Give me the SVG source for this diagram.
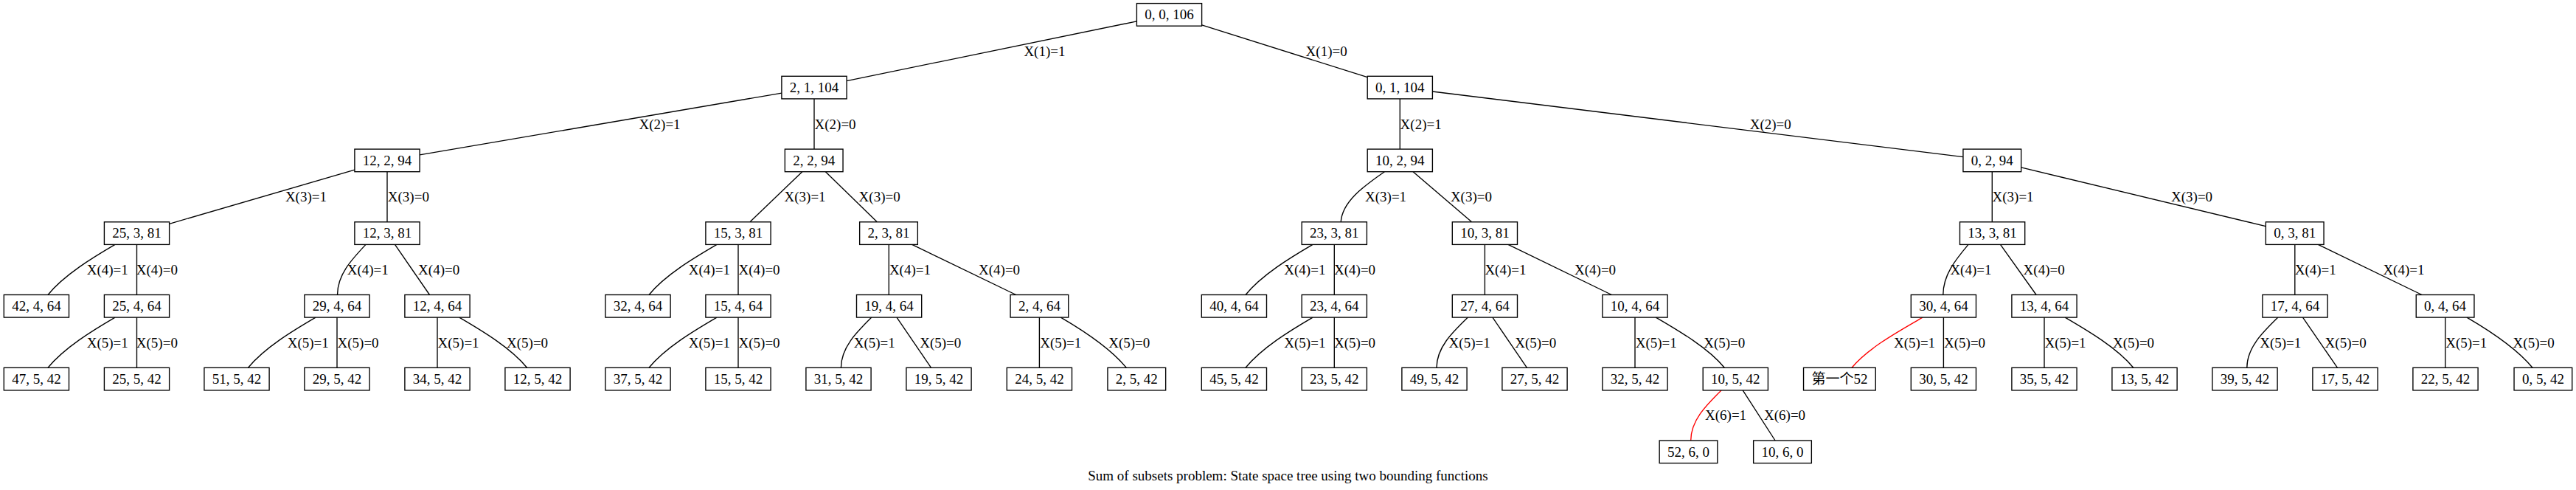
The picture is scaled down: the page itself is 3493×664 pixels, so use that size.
<svg xmlns="http://www.w3.org/2000/svg" width="3493" height="664" viewBox="0 0 3493 664">
<style>
.node rect{fill:#fff;stroke:#000;stroke-width:1.36}
.node text{font-family:"Liberation Serif","Noto Sans CJK SC",serif;font-size:19px;text-anchor:middle;fill:#000}
.edge path{fill:none;stroke:#000;stroke-width:1.36}
.edge path.red{stroke:#ff0000}
.edge text{font-family:"Liberation Serif",serif;font-size:19px;fill:#000}
.cap{font-family:"Liberation Serif",serif;font-size:19px;text-anchor:middle;fill:#000}
</style>
<rect width="3493" height="664" fill="#fff"/>
<g id="connectors">
<g class="edge"><path d="M1541.4,28.9L1148.1,109.6"/><text x="1388.4" y="75.9">X(1)=1</text></g>
<g class="edge"><path d="M1629.6,33.8L1854.2,104.7"/><text x="1770.6" y="75.9">X(1)=0</text></g>
<g class="edge"><path d="M1060,126.1L569.1,209.9"/><text x="866.5" y="174.6">X(2)=1</text></g>
<g class="edge"><path d="M1104,133.9L1104,202.1"/><text x="1104.5" y="174.6">X(2)=0</text></g>
<g class="edge"><path d="M1898.3,133.9L1898.3,202.1"/><text x="1898.6" y="174.6">X(2)=1</text></g>
<g class="edge"><path d="M1942.4,124L2661.9,212.6"/><text x="2372.7" y="174.6">X(2)=0</text></g>
<g class="edge"><path d="M480.9,230.2L229.6,303.3"/><text x="386.9" y="273.3">X(3)=1</text></g>
<g class="edge"><path d="M525,232.7L525,300.8"/><text x="525.8" y="273.3">X(3)=0</text></g>
<g class="edge"><path d="M1087.8,232.7L1016.9,300.8"/><text x="1063.5" y="273.3">X(3)=1</text></g>
<g class="edge"><path d="M1119.4,232.7L1189.3,300.8"/><text x="1164.6" y="273.3">X(3)=0</text></g>
<g class="edge"><path d="M1877.4,232.7C1847.8,253.1 1820,273.6 1818.2,300.8"/><text x="1851" y="273.3">X(3)=1</text></g>
<g class="edge"><path d="M1916.1,232.7L1995.6,300.8"/><text x="1966.9" y="273.3">X(3)=0</text></g>
<g class="edge"><path d="M2701.3,232.7L2701.3,300.8"/><text x="2701.5" y="273.3">X(3)=1</text></g>
<g class="edge"><path d="M2740.6,226.9L3072.3,306.6"/><text x="2944" y="273.3">X(3)=0</text></g>
<g class="edge"><path d="M156,331.4C126,348.9 87,372.5 65,399.5"/><text x="117.7" y="372">X(4)=1</text></g>
<g class="edge"><path d="M185.5,331.4L185.5,399.5"/><text x="184.8" y="372">X(4)=0</text></g>
<g class="edge"><path d="M496,331.4C476.75,351.8 457.5,372.3 457.5,399.5"/><text x="470.7" y="372">X(4)=1</text></g>
<g class="edge"><path d="M535.5,331.4L582.5,399.5"/><text x="567.1" y="372">X(4)=0</text></g>
<g class="edge"><path d="M972,331.4C942,348.9 902,372.5 880,399.5"/><text x="933.8" y="372">X(4)=1</text></g>
<g class="edge"><path d="M1001,331.4L1001,399.5"/><text x="1001.5" y="372">X(4)=0</text></g>
<g class="edge"><path d="M1205.3,331.4L1205.3,399.5"/><text x="1205.9" y="372">X(4)=1</text></g>
<g class="edge"><path d="M1236.7,331.4L1377.7,399.5"/><text x="1327" y="372">X(4)=0</text></g>
<g class="edge"><path d="M1780,331.4C1750,348.9 1711,372.5 1689,399.5"/><text x="1741.3" y="372">X(4)=1</text></g>
<g class="edge"><path d="M1809.3,331.4L1809.3,399.5"/><text x="1809" y="372">X(4)=0</text></g>
<g class="edge"><path d="M2013.4,331.4L2013.4,399.5"/><text x="2013.4" y="372">X(4)=1</text></g>
<g class="edge"><path d="M2045,331.4L2185.4,399.5"/><text x="2135" y="372">X(4)=0</text></g>
<g class="edge"><path d="M2669,331.4C2651.9,351.8 2634.8,372.3 2634.8,399.5"/><text x="2644.4" y="372">X(4)=1</text></g>
<g class="edge"><path d="M2712.5,331.4L2761.1,399.5"/><text x="2743.6" y="372">X(4)=0</text></g>
<g class="edge"><path d="M3111.8,331.4L3111.8,399.5"/><text x="3111.7" y="372">X(4)=1</text></g>
<g class="edge"><path d="M3143.3,331.4L3284,399.5"/><text x="3231.4" y="372">X(4)=1</text></g>
<g class="edge"><path d="M156,430.1C126,447.6 87,471.3 65,498.3"/><text x="117.7" y="470.7">X(5)=1</text></g>
<g class="edge"><path d="M185.5,430.1L185.5,498.3"/><text x="184.8" y="470.7">X(5)=0</text></g>
<g class="edge"><path d="M428,430.1C398,447.6 358.5,471.3 336.5,498.3"/><text x="389.7" y="470.7">X(5)=1</text></g>
<g class="edge"><path d="M457,430.1L457,498.3"/><text x="457.5" y="470.7">X(5)=0</text></g>
<g class="edge"><path d="M593,430.1L593,498.3"/><text x="593.5" y="470.7">X(5)=1</text></g>
<g class="edge"><path d="M622.8,430.1C652.8,447.6 692.6,471.3 714.6,498.3"/><text x="687" y="470.7">X(5)=0</text></g>
<g class="edge"><path d="M972,430.1C942,447.6 902,471.3 880,498.3"/><text x="933.8" y="470.7">X(5)=1</text></g>
<g class="edge"><path d="M1001,430.1L1001,498.3"/><text x="1001.5" y="470.7">X(5)=0</text></g>
<g class="edge"><path d="M1181.8,430.1C1161.1,450.6 1140.4,471 1140.4,498.3"/><text x="1157.7" y="470.7">X(5)=1</text></g>
<g class="edge"><path d="M1216,430.1L1262.6,498.3"/><text x="1247.2" y="470.7">X(5)=0</text></g>
<g class="edge"><path d="M1409.4,430.1L1409.4,498.3"/><text x="1410.2" y="470.7">X(5)=1</text></g>
<g class="edge"><path d="M1438.4,430.1C1468.4,447.6 1505.3,471.3 1527.3,498.3"/><text x="1503.2" y="470.7">X(5)=0</text></g>
<g class="edge"><path d="M1780,430.1C1750,447.6 1711,471.3 1689,498.3"/><text x="1741.3" y="470.7">X(5)=1</text></g>
<g class="edge"><path d="M1809.3,430.1L1809.3,498.3"/><text x="1809" y="470.7">X(5)=0</text></g>
<g class="edge"><path d="M1990.4,430.1C1969.2,450.6 1948,471 1948,498.3"/><text x="1964.6" y="470.7">X(5)=1</text></g>
<g class="edge"><path d="M2023.9,430.1L2070.5,498.3"/><text x="2054.2" y="470.7">X(5)=0</text></g>
<g class="edge"><path d="M2217,430.1L2217,498.3"/><text x="2217.7" y="470.7">X(5)=1</text></g>
<g class="edge"><path d="M2245.3,430.1C2275.3,447.6 2316.3,471.3 2338.3,498.3"/><text x="2310.2" y="470.7">X(5)=0</text></g>
<g class="edge"><path class="red" d="M2607,430.1C2577,447.6 2533,471.3 2511,498.3"/><text x="2568" y="470.7">X(5)=1</text></g>
<g class="edge"><path d="M2635.4,430.1L2635.4,498.3"/><text x="2636" y="470.7">X(5)=0</text></g>
<g class="edge"><path d="M2772,430.1L2772,498.3"/><text x="2772.5" y="470.7">X(5)=1</text></g>
<g class="edge"><path d="M2800.2,430.1C2830.2,447.6 2870.8,471.3 2892.8,498.3"/><text x="2865" y="470.7">X(5)=0</text></g>
<g class="edge"><path d="M3088.9,430.1C3067.85,450.6 3046.8,471 3046.8,498.3"/><text x="3064.2" y="470.7">X(5)=1</text></g>
<g class="edge"><path d="M3122.5,430.1L3169.5,498.3"/><text x="3152.6" y="470.7">X(5)=0</text></g>
<g class="edge"><path d="M3315.8,430.1L3315.8,498.3"/><text x="3316.2" y="470.7">X(5)=1</text></g>
<g class="edge"><path d="M3345,430.1C3375,447.6 3412,471.3 3434,498.3"/><text x="3407.6" y="470.7">X(5)=0</text></g>
<g class="edge"><path class="red" d="M2334,528.9C2313.35,549.3 2292.7,569.8 2292.7,597"/><text x="2312" y="569.4">X(6)=1</text></g>
<g class="edge"><path d="M2363.2,528.9L2407.1,597"/><text x="2392" y="569.4">X(6)=0</text></g>
</g>
<g id="n_0_0_106" class="node"><rect x="1541.4" y="4.6" width="88.2" height="30.6"/><text x="1585.5" y="26.2">0, 0, 106</text></g>
<g id="n_2_1_104" class="node"><rect x="1059.9" y="103.3" width="88.2" height="30.6"/><text x="1104" y="124.9">2, 1, 104</text></g>
<g id="n_0_1_104" class="node"><rect x="1854.2" y="103.3" width="88.2" height="30.6"/><text x="1898.3" y="124.9">0, 1, 104</text></g>
<g id="n_12_2_94" class="node"><rect x="480.9" y="202.1" width="88.2" height="30.6"/><text x="525" y="223.7">12, 2, 94</text></g>
<g id="n_2_2_94" class="node"><rect x="1064.35" y="202.1" width="78.7" height="30.6"/><text x="1103.7" y="223.7">2, 2, 94</text></g>
<g id="n_10_2_94" class="node"><rect x="1854.2" y="202.1" width="88.2" height="30.6"/><text x="1898.3" y="223.7">10, 2, 94</text></g>
<g id="n_0_2_94" class="node"><rect x="2661.95" y="202.1" width="78.7" height="30.6"/><text x="2701.3" y="223.7">0, 2, 94</text></g>
<g id="n_25_3_81" class="node"><rect x="141.4" y="300.8" width="88.2" height="30.6"/><text x="185.5" y="322.4">25, 3, 81</text></g>
<g id="n_12_3_81" class="node"><rect x="480.9" y="300.8" width="88.2" height="30.6"/><text x="525" y="322.4">12, 3, 81</text></g>
<g id="n_15_3_81" class="node"><rect x="956.9" y="300.8" width="88.2" height="30.6"/><text x="1001" y="322.4">15, 3, 81</text></g>
<g id="n_2_3_81" class="node"><rect x="1165.65" y="300.8" width="78.7" height="30.6"/><text x="1205" y="322.4">2, 3, 81</text></g>
<g id="n_23_3_81" class="node"><rect x="1765.2" y="300.8" width="88.2" height="30.6"/><text x="1809.3" y="322.4">23, 3, 81</text></g>
<g id="n_10_3_81" class="node"><rect x="1969.3" y="300.8" width="88.2" height="30.6"/><text x="2013.4" y="322.4">10, 3, 81</text></g>
<g id="n_13_3_81" class="node"><rect x="2657.5" y="300.8" width="88.2" height="30.6"/><text x="2701.6" y="322.4">13, 3, 81</text></g>
<g id="n_0_3_81" class="node"><rect x="3072.35" y="300.8" width="78.7" height="30.6"/><text x="3111.7" y="322.4">0, 3, 81</text></g>
<g id="n_42_4_64" class="node"><rect x="5.3" y="399.5" width="88.2" height="30.6"/><text x="49.4" y="421.1">42, 4, 64</text></g>
<g id="n_25_4_64" class="node"><rect x="141.4" y="399.5" width="88.2" height="30.6"/><text x="185.5" y="421.1">25, 4, 64</text></g>
<g id="n_29_4_64" class="node"><rect x="412.9" y="399.5" width="88.2" height="30.6"/><text x="457" y="421.1">29, 4, 64</text></g>
<g id="n_12_4_64" class="node"><rect x="548.9" y="399.5" width="88.2" height="30.6"/><text x="593" y="421.1">12, 4, 64</text></g>
<g id="n_32_4_64" class="node"><rect x="820.9" y="399.5" width="88.2" height="30.6"/><text x="865" y="421.1">32, 4, 64</text></g>
<g id="n_15_4_64" class="node"><rect x="956.9" y="399.5" width="88.2" height="30.6"/><text x="1001" y="421.1">15, 4, 64</text></g>
<g id="n_19_4_64" class="node"><rect x="1161.5" y="399.5" width="88.2" height="30.6"/><text x="1205.6" y="421.1">19, 4, 64</text></g>
<g id="n_2_4_64" class="node"><rect x="1370.05" y="399.5" width="78.7" height="30.6"/><text x="1409.4" y="421.1">2, 4, 64</text></g>
<g id="n_40_4_64" class="node"><rect x="1629.3" y="399.5" width="88.2" height="30.6"/><text x="1673.4" y="421.1">40, 4, 64</text></g>
<g id="n_23_4_64" class="node"><rect x="1765.2" y="399.5" width="88.2" height="30.6"/><text x="1809.3" y="421.1">23, 4, 64</text></g>
<g id="n_27_4_64" class="node"><rect x="1969.3" y="399.5" width="88.2" height="30.6"/><text x="2013.4" y="421.1">27, 4, 64</text></g>
<g id="n_10_4_64" class="node"><rect x="2172.9" y="399.5" width="88.2" height="30.6"/><text x="2217" y="421.1">10, 4, 64</text></g>
<g id="n_30_4_64" class="node"><rect x="2591.3" y="399.5" width="88.2" height="30.6"/><text x="2635.4" y="421.1">30, 4, 64</text></g>
<g id="n_13_4_64" class="node"><rect x="2727.9" y="399.5" width="88.2" height="30.6"/><text x="2772" y="421.1">13, 4, 64</text></g>
<g id="n_17_4_64" class="node"><rect x="3067.9" y="399.5" width="88.2" height="30.6"/><text x="3112" y="421.1">17, 4, 64</text></g>
<g id="n_0_4_64" class="node"><rect x="3276.25" y="399.5" width="78.7" height="30.6"/><text x="3315.6" y="421.1">0, 4, 64</text></g>
<g id="n_47_5_42" class="node"><rect x="5.3" y="498.3" width="88.2" height="30.6"/><text x="49.4" y="519.9">47, 5, 42</text></g>
<g id="n_25_5_42" class="node"><rect x="141.4" y="498.3" width="88.2" height="30.6"/><text x="185.5" y="519.9">25, 5, 42</text></g>
<g id="n_51_5_42" class="node"><rect x="276.9" y="498.3" width="88.2" height="30.6"/><text x="321" y="519.9">51, 5, 42</text></g>
<g id="n_29_5_42" class="node"><rect x="412.9" y="498.3" width="88.2" height="30.6"/><text x="457" y="519.9">29, 5, 42</text></g>
<g id="n_34_5_42" class="node"><rect x="548.9" y="498.3" width="88.2" height="30.6"/><text x="593" y="519.9">34, 5, 42</text></g>
<g id="n_12_5_42" class="node"><rect x="684.9" y="498.3" width="88.2" height="30.6"/><text x="729" y="519.9">12, 5, 42</text></g>
<g id="n_37_5_42" class="node"><rect x="820.9" y="498.3" width="88.2" height="30.6"/><text x="865" y="519.9">37, 5, 42</text></g>
<g id="n_15_5_42" class="node"><rect x="956.9" y="498.3" width="88.2" height="30.6"/><text x="1001" y="519.9">15, 5, 42</text></g>
<g id="n_31_5_42" class="node"><rect x="1092.9" y="498.3" width="88.2" height="30.6"/><text x="1137" y="519.9">31, 5, 42</text></g>
<g id="n_19_5_42" class="node"><rect x="1228.9" y="498.3" width="88.2" height="30.6"/><text x="1273" y="519.9">19, 5, 42</text></g>
<g id="n_24_5_42" class="node"><rect x="1365.3" y="498.3" width="88.2" height="30.6"/><text x="1409.4" y="519.9">24, 5, 42</text></g>
<g id="n_2_5_42" class="node"><rect x="1501.95" y="498.3" width="78.7" height="30.6"/><text x="1541.3" y="519.9">2, 5, 42</text></g>
<g id="n_45_5_42" class="node"><rect x="1629.3" y="498.3" width="88.2" height="30.6"/><text x="1673.4" y="519.9">45, 5, 42</text></g>
<g id="n_23_5_42" class="node"><rect x="1765.2" y="498.3" width="88.2" height="30.6"/><text x="1809.3" y="519.9">23, 5, 42</text></g>
<g id="n_49_5_42" class="node"><rect x="1900.9" y="498.3" width="88.2" height="30.6"/><text x="1945" y="519.9">49, 5, 42</text></g>
<g id="n_27_5_42" class="node"><rect x="2036.9" y="498.3" width="88.2" height="30.6"/><text x="2081" y="519.9">27, 5, 42</text></g>
<g id="n_32_5_42" class="node"><rect x="2172.9" y="498.3" width="88.2" height="30.6"/><text x="2217" y="519.9">32, 5, 42</text></g>
<g id="n_10_5_42" class="node"><rect x="2309.2" y="498.3" width="88.2" height="30.6"/><text x="2353.3" y="519.9">10, 5, 42</text></g>
<g id="n_first_52" class="node"><rect x="2445.55" y="498.3" width="97.7" height="30.6"/><text x="2494.4" y="519.9">第一个52</text></g>
<g id="n_30_5_42" class="node"><rect x="2591.3" y="498.3" width="88.2" height="30.6"/><text x="2635.4" y="519.9">30, 5, 42</text></g>
<g id="n_35_5_42" class="node"><rect x="2727.9" y="498.3" width="88.2" height="30.6"/><text x="2772" y="519.9">35, 5, 42</text></g>
<g id="n_13_5_42" class="node"><rect x="2863.9" y="498.3" width="88.2" height="30.6"/><text x="2908" y="519.9">13, 5, 42</text></g>
<g id="n_39_5_42" class="node"><rect x="2999.9" y="498.3" width="88.2" height="30.6"/><text x="3044" y="519.9">39, 5, 42</text></g>
<g id="n_17_5_42" class="node"><rect x="3135.9" y="498.3" width="88.2" height="30.6"/><text x="3180" y="519.9">17, 5, 42</text></g>
<g id="n_22_5_42" class="node"><rect x="3271.9" y="498.3" width="88.2" height="30.6"/><text x="3316" y="519.9">22, 5, 42</text></g>
<g id="n_0_5_42" class="node"><rect x="3409.05" y="498.3" width="78.7" height="30.6"/><text x="3448.4" y="519.9">0, 5, 42</text></g>
<g id="n_52_6_0" class="node"><rect x="2250.15" y="597" width="78.7" height="30.6"/><text x="2289.5" y="618.6">52, 6, 0</text></g>
<g id="n_10_6_0" class="node"><rect x="2377.65" y="597" width="78.7" height="30.6"/><text x="2417" y="618.6">10, 6, 0</text></g>
<text class="cap" x="1746.5" y="651">Sum of subsets problem: State space tree using two bounding functions</text>
</svg>
